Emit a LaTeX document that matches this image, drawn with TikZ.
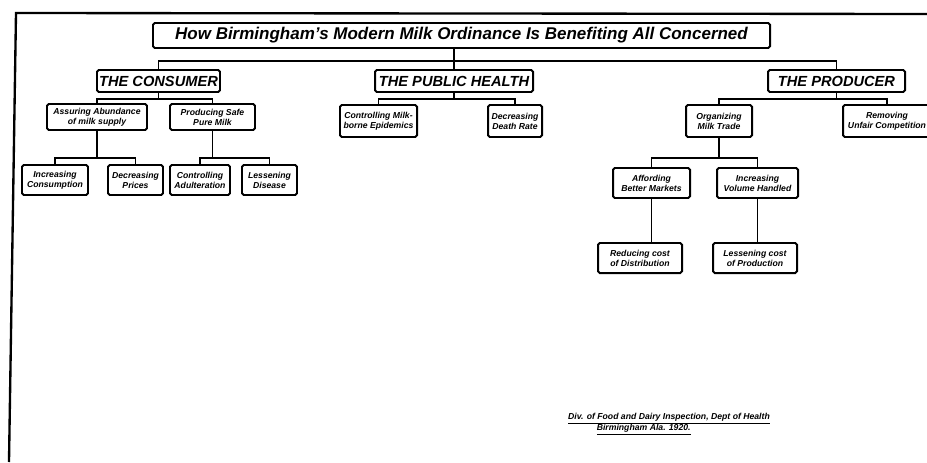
\documentclass[tikz,border=0pt]{standalone}
\usepackage{fontspec}
\setmainfont{Liberation Sans}
\usepackage{tikz}
\usetikzlibrary{positioning}
\usetikzlibrary{calc}
\tikzset{%
  link/.style = {line width=1.4pt},
  b/.style = {rectangle,draw,line width=1.7pt,rounded corners=1.5pt,
        inner sep=1pt,align=center,
        font=\bfseries\itshape\fontsize{7.4}{8.6}\selectfont},
  h/.style = {b,font=\bfseries\itshape\fontsize{12.5}{14}\selectfont},
  sz/.style 2 args = {minimum width=#1*0.3mm,minimum height=#2*0.3mm}
}

\begin{document}
\begin{tikzpicture}[x=0.3mm,y=-0.3mm]
    \useasboundingbox (0,0) rectangle (927,462);
    % frame
    \draw[line width=2pt] (927,14) -- (16,13) -- (9,462);

    \node[b,sz={617}{25},font=\bfseries\itshape\fontsize{14.5}{16}\selectfont]
        (title) at (461.5,35.5)
        {How Birmingham's Modern Milk Ordinance Is Benefiting All Concerned};

    \node[h,sz={123}{22}] (cons) at (158.5,81) {THE CONSUMER};
    \node[h,sz={158}{22}] (health) at (454,81) {THE PUBLIC HEALTH};
    \node[h,sz={137}{22}] (prod) at (836.5,81) {THE PRODUCER};

    % consumer side
    \node[b,sz={100}{26}] (assur) at (97,117) {Assuring Abundance\\of milk supply};
    \node[b,sz={85}{26}] (safe) at (212.5,117) {Producing Safe\\Pure Milk};
    \node[b,sz={66}{30}] (incr) at (55,180) {Increasing\\Consumption};
    \node[b,sz={55}{30}] (decr) at (135.5,180) {Decreasing\\Prices};
    \node[b,sz={60}{30}] (adul) at (200,180) {Controlling\\Adulteration};
    \node[b,sz={55}{30}] (dise) at (269.5,180) {Lessening\\Disease};

    % public health side
    \node[b,sz={77}{32}] (epid) at (378.5,121) {Controlling Milk-\\borne Epidemics};
    \node[b,sz={54}{32}] (death) at (515,121) {Decreasing\\Death Rate};

    % producer side
    \node[b,sz={66}{32}] (organ) at (719,121) {Organizing\\Milk Trade};
    \node[b,sz={88}{32}] (unfair) at (887,121) {Removing\\Unfair Competition};
    \node[b,sz={77}{30}] (afford) at (651.5,183) {Affording\\Better Markets};
    \node[b,sz={81}{30}] (volume) at (757.5,183) {Increasing\\Volume Handled};
    \node[b,sz={84}{30}] (distr) at (640,258) {Reducing cost\\of Distribution};
    \node[b,sz={84}{30}] (produ) at (755,258) {Lessening cost\\of Production};

    % connectors
    \coordinate (bar) at (0,61);
    \draw[link] (health.north |- title.south) -- (health.north);
    \draw[link] (cons.north) |- (bar -| prod.north) -- (prod.north);

    \coordinate (c1) at (0,99);
    \draw[link] (cons.south) -- (cons.south |- c1);
    \draw[link] (assur.north) |- (c1 -| safe.north) -- (safe.north);
    \coordinate (c2) at (0,158);
    \draw[link] (assur.south) -- (assur.south |- c2);
    \draw[link] (incr.north) |- (c2 -| decr.north) -- (decr.north);
    \draw[link] (safe.south) -- (safe.south |- c2);
    \draw[link] (adul.north) |- (c2 -| dise.north) -- (dise.north);

    \draw[link] (health.south) -- (health.south |- c1);
    \draw[link] (epid.north) |- (c1 -| death.north) -- (death.north);

    \draw[link] (prod.south) -- (prod.south |- c1);
    \draw[link] (organ.north) |- (c1 -| unfair.north) -- (unfair.north);
    \draw[link] (organ.south) -- (organ.south |- c2);
    \draw[link] (afford.north) |- (c2 -| volume.north) -- (volume.north);
    \draw[link] (afford.south) -- (afford.south |- distr.north);
    \draw[link] (volume.south) -- (volume.south |- produ.north);

    \node[align=left,font=\bfseries\itshape\fontsize{7.4}{9}\selectfont]
        (credit) at (669,424)
        {\underline{Div. of Food and Dairy Inspection, Dept of Health}\\
         \hspace{3.3em}\underline{Birmingham Ala. 1920.}};
\end{tikzpicture}
\end{document}
